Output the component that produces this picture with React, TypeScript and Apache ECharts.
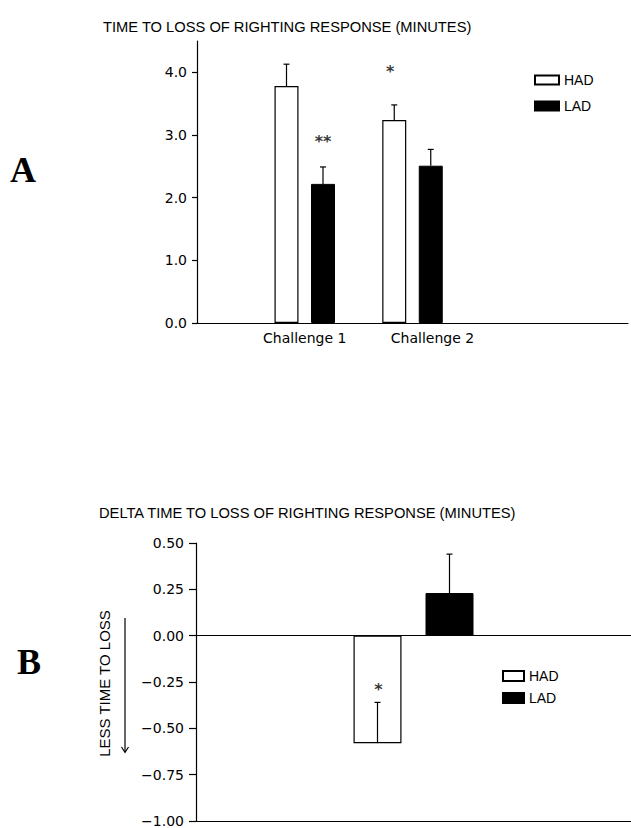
import React, { useEffect, useRef } from "react";
import * as echarts from "echarts";

// ---------- Panel A data ----------
const CHALLENGES = ["Challenge 1", "Challenge 2"];
const AXIS_A_CATEGORIES = ["", ...CHALLENGES, "", ""];
const HAD_A = [3.78, 3.24];
const LAD_A = [2.22, 2.51];
const HAD_A_ERR = [0.35, 0.24];
const LAD_A_ERR = [0.27, 0.26];
const A_Y_TICKS = [0, 1, 2, 3, 4];
const A_Y_MAX = 4.5;
const SIG_A_MARKS = ["**", "*"];
const SIG_A_GROUP = ["LAD", "HAD"];
const SIG_A_CHALLENGE = [0, 1];
const SIG_A_AT = [2.9, 4.02];

// ---------- Panel B data ----------
const B_CATEGORIES = ["Δ"];
const HAD_B = [-0.58];
const LAD_B = [0.23];
const HAD_B_ERR = [0.22];
const LAD_B_ERR = [0.21];
const B_Y_TICKS = [-1, -0.75, -0.5, -0.25, 0, 0.25, 0.5];
const SIG_B_MARKS = ["*"];
const SIG_B_AT = [-0.29];

const TITLE_A = "TIME TO LOSS OF RIGHTING RESPONSE (MINUTES)";
const TITLE_B = "DELTA TIME TO LOSS OF RIGHTING RESPONSE (MINUTES)";
const SERIES_NAMES = ["HAD", "LAD"];

const SANS = "Liberation Sans";
const TICK_FONT = "DejaVu Sans";

const BAR_A_W = 24;
const BAR_A_GAP = 12.5;
const BAR_B_W = 48;
const BAR_B_GAP = 24;

function pad(values: number[]): (number | string)[] {
  return AXIS_A_CATEGORIES.map((_, i) => (i >= 1 && i <= values.length ? values[i - 1] : "-"));
}

function errorRender(offset: number) {
  return (params: any, api: any) => {
    const x = api.value(0);
    const v = api.value(1);
    const e = api.value(2);
    const p0 = api.coord([x, v]);
    const p1 = api.coord([x, v + e]);
    const cx = p0[0] + offset;
    const st = { stroke: "#000", lineWidth: 1.2 };
    return {
      type: "group",
      children: [
        { type: "line", shape: { x1: cx, y1: p0[1], x2: cx, y2: p1[1] }, style: st },
        { type: "line", shape: { x1: cx - 3, y1: p1[1], x2: cx + 3, y2: p1[1] }, style: st },
      ],
    };
  };
}

export default function App() {
  const ref = useRef<HTMLDivElement>(null);
  useEffect(() => {
    if (!ref.current) return;
    const chart = echarts.init(ref.current, undefined, { renderer: "svg" });
    const offA = (BAR_A_W + BAR_A_GAP) / 2;
    const offB = (BAR_B_W + BAR_B_GAP) / 2;
    const axisLine = { show: true, lineStyle: { color: "#000", width: 1.2 } };
    const hadStyle = { color: "#fff", borderColor: "#000", borderWidth: 1.2 };
    const ladStyle = { color: "#000", borderColor: "#000", borderWidth: 1 };

    const option: any = {
      animation: false,
      backgroundColor: "#fff",
      title: [
        {
          text: TITLE_A,
          left: 103,
          top: 19,
          padding: 0,
          textStyle: { fontFamily: SANS, fontSize: 14.7, fontWeight: "normal", color: "#000" },
        },
        {
          text: TITLE_B,
          left: 99,
          top: 505,
          padding: 0,
          textStyle: { fontFamily: SANS, fontSize: 14.7, fontWeight: "normal", color: "#000" },
        },
      ],
      legend: [
        {
          data: SERIES_NAMES,
          orient: "vertical",
          left: 534,
          top: 73,
          padding: 0,
          itemWidth: 24,
          itemHeight: 9,
          itemGap: 12,
          icon: "rect",
          selectedMode: false,
          textStyle: { fontFamily: SANS, fontSize: 14, color: "#000", lineHeight: 14 },
        },
        {
          data: SERIES_NAMES,
          orient: "vertical",
          left: 502,
          top: 669,
          padding: 0,
          itemWidth: 21,
          itemHeight: 10,
          itemGap: 8,
          icon: "rect",
          selectedMode: false,
          textStyle: { fontFamily: SANS, fontSize: 14, color: "#000", lineHeight: 14 },
        },
      ],
      grid: [
        { left: 197, top: 41, width: 448, height: 282 },
        { left: 196, top: 543, width: 435, height: 280 },
      ],
      xAxis: [
        {
          gridIndex: 0,
          type: "category",
          data: AXIS_A_CATEGORIES,
          boundaryGap: false,
          axisLine,
          axisTick: { show: false },
          axisLabel: {
            interval: 0,
            margin: 8,
            fontFamily: TICK_FONT,
            fontSize: 14,
            color: "#000",
            formatter: (v: string) => (v === CHALLENGES[1] ? "{s|" + v + "}" : v),
            rich: { s: { padding: [0, 0, 0, 40], fontFamily: TICK_FONT, fontSize: 14, color: "#000" } },
          },
          splitLine: { show: false },
        },
        {
          gridIndex: 1,
          type: "category",
          data: B_CATEGORIES,
          axisLine: { ...axisLine, onZero: false },
          axisTick: { show: false },
          axisLabel: { show: false },
          splitLine: { show: false },
        },
      ],
      yAxis: [
        {
          gridIndex: 0,
          type: "value",
          min: 0,
          max: A_Y_MAX,
          interval: 1,
          axisLine,
          axisTick: { show: true, length: 5, customValues: A_Y_TICKS, lineStyle: { color: "#000", width: 1.2 } },
          axisLabel: {
            customValues: A_Y_TICKS,
            margin: 10,
            fontFamily: TICK_FONT,
            fontSize: 14,
            color: "#000",
            formatter: (v: number) => v.toFixed(1),
          },
          splitLine: { show: false },
        },
        {
          gridIndex: 1,
          type: "value",
          min: -1,
          max: 0.5,
          interval: 0.25,
          axisLine,
          axisTick: { show: true, length: 7, customValues: B_Y_TICKS, lineStyle: { color: "#000", width: 1.2 } },
          axisLabel: {
            customValues: B_Y_TICKS,
            margin: 12,
            fontFamily: TICK_FONT,
            fontSize: 14,
            color: "#000",
            formatter: (v: number) => (v < 0 ? "\u2212" : "") + Math.abs(v).toFixed(2),
          },
          splitLine: { show: false },
        },
      ],
      series: [
        {
          name: "HAD",
          type: "bar",
          xAxisIndex: 0,
          yAxisIndex: 0,
          data: pad(HAD_A),
          barWidth: BAR_A_W,
          barGap: (BAR_A_GAP / BAR_A_W) * 100 + "%",
          itemStyle: hadStyle,
        },
        {
          name: "LAD",
          type: "bar",
          xAxisIndex: 0,
          yAxisIndex: 0,
          data: pad(LAD_A),
          barWidth: BAR_A_W,
          barGap: (BAR_A_GAP / BAR_A_W) * 100 + "%",
          itemStyle: ladStyle,
        },
        {
          type: "custom",
          xAxisIndex: 0,
          yAxisIndex: 0,
          renderItem: errorRender(-offA),
          encode: { x: 0, y: 1 },
          data: HAD_A.map((v, i) => [i + 1, v, HAD_A_ERR[i]]),
          z: 5,
          silent: true,
        },
        {
          type: "custom",
          xAxisIndex: 0,
          yAxisIndex: 0,
          renderItem: errorRender(offA),
          encode: { x: 0, y: 1 },
          data: LAD_A.map((v, i) => [i + 1, v, LAD_A_ERR[i]]),
          z: 5,
          silent: true,
        },
        {
          type: "scatter",
          xAxisIndex: 0,
          yAxisIndex: 0,
          symbolSize: 1,
          itemStyle: { color: "rgba(0,0,0,0)" },
          silent: true,
          z: 6,
          data: SIG_A_MARKS.map((m, i) => ({
            value: [SIG_A_CHALLENGE[i] + 1, SIG_A_AT[i]],
            label: {
              show: true,
              position: "inside",
              formatter: m,
              offset: [SIG_A_GROUP[i] === "HAD" ? -offA - 4 : offA, 0],
              fontFamily: TICK_FONT,
              fontWeight: "bold",
              fontSize: 16,
              color: "#000",
            },
          })),
        },
        {
          name: "HAD",
          type: "bar",
          xAxisIndex: 1,
          yAxisIndex: 1,
          data: HAD_B,
          barWidth: BAR_B_W,
          barGap: (BAR_B_GAP / BAR_B_W) * 100 + "%",
          itemStyle: hadStyle,
          markLine: {
            silent: true,
            symbol: ["none", "none"],
            label: { show: false },
            lineStyle: { color: "#000", width: 1.2, type: "solid" },
            data: [{ yAxis: 0 }],
          },
        },
        {
          name: "LAD",
          type: "bar",
          xAxisIndex: 1,
          yAxisIndex: 1,
          data: LAD_B,
          barWidth: BAR_B_W,
          barGap: (BAR_B_GAP / BAR_B_W) * 100 + "%",
          itemStyle: ladStyle,
        },
        {
          type: "custom",
          xAxisIndex: 1,
          yAxisIndex: 1,
          renderItem: errorRender(-offB),
          encode: { x: 0, y: 1 },
          data: HAD_B.map((v, i) => [i, v, HAD_B_ERR[i]]),
          z: 5,
          silent: true,
        },
        {
          type: "custom",
          xAxisIndex: 1,
          yAxisIndex: 1,
          renderItem: errorRender(offB),
          encode: { x: 0, y: 1 },
          data: LAD_B.map((v, i) => [i, v, LAD_B_ERR[i]]),
          z: 5,
          silent: true,
        },
        {
          type: "scatter",
          xAxisIndex: 1,
          yAxisIndex: 1,
          symbolSize: 1,
          itemStyle: { color: "rgba(0,0,0,0)" },
          silent: true,
          z: 6,
          data: SIG_B_MARKS.map((m, i) => ({
            value: [i, SIG_B_AT[i]],
            label: {
              show: true,
              position: "inside",
              formatter: m,
              offset: [-offB + 1, 0],
              fontFamily: TICK_FONT,
              fontWeight: "bold",
              fontSize: 16,
              color: "#000",
            },
          })),
        },
      ],
      graphic: [
        {
          type: "text",
          x: 10,
          y: 169.5,
          style: { text: "A", font: 'bold 36px "Liberation Serif"', fill: "#000", align: "left", verticalAlign: "middle" },
        },
        {
          type: "text",
          x: 17,
          y: 661.5,
          style: { text: "B", font: 'bold 36px "Liberation Serif"', fill: "#000", align: "left", verticalAlign: "middle" },
        },
        {
          type: "text",
          x: 104,
          y: 683.5,
          rotation: Math.PI / 2,
          style: {
            text: "LESS TIME TO LOSS",
            font: '15px "Liberation Sans"',
            fill: "#000",
            align: "center",
            verticalAlign: "middle",
          },
        },
        {
          type: "line",
          shape: { x1: 125, y1: 618, x2: 125, y2: 752 },
          style: { stroke: "#000", lineWidth: 1.2 },
        },
        {
          type: "polyline",
          shape: { points: [[121.5, 747], [125, 752.5], [128.5, 747]] },
          style: { stroke: "#000", lineWidth: 1.2, fill: "none" },
        },
      ],
    };
    chart.setOption(option);
    return () => chart.dispose();
  }, []);
  return <div ref={ref} style={{ position: "absolute", left: 0, top: 0, width: 631, height: 828 }} />;
}
